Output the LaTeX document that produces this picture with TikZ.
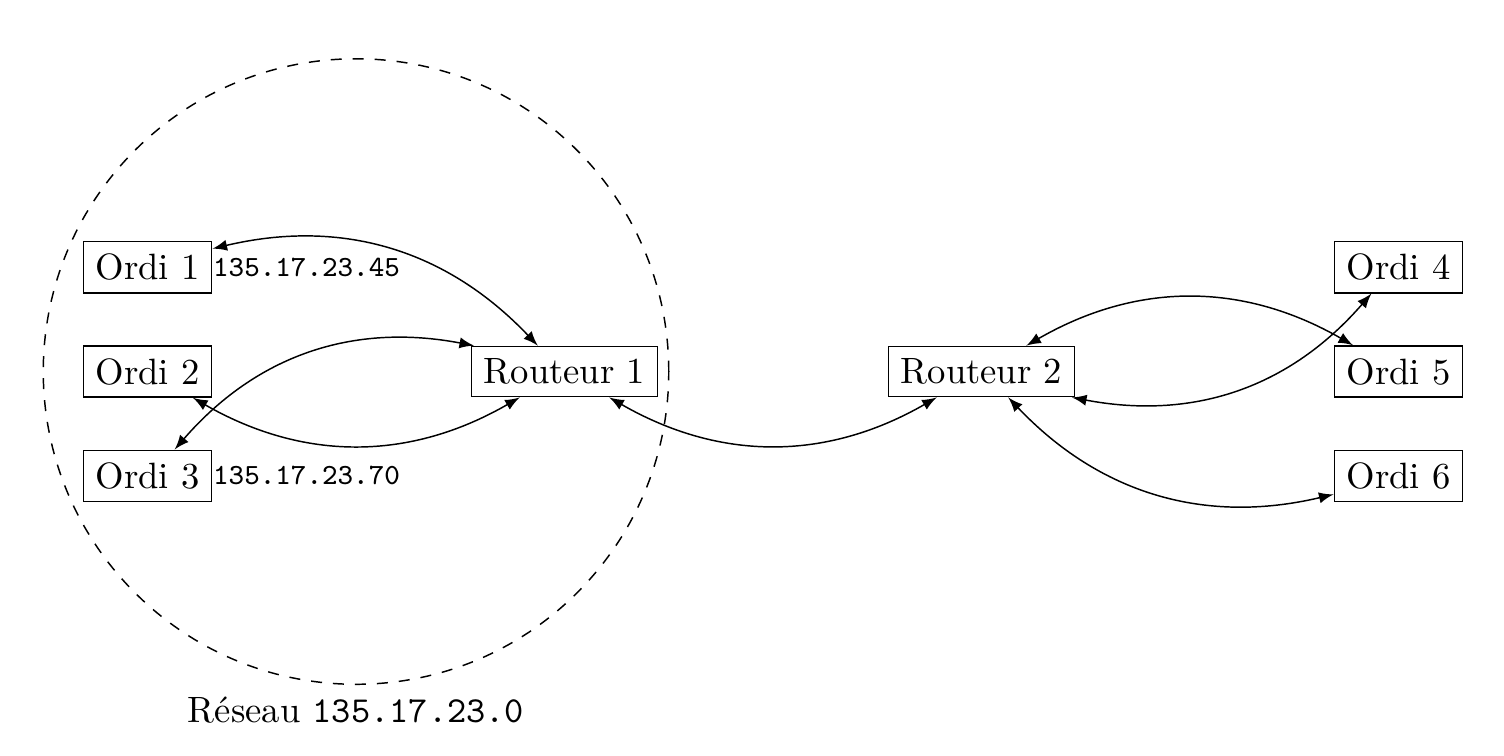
\documentclass[tikz,border=0pt]{standalone}
\begin{document}
\begin{tikzpicture}[
  box/.style={draw, rectangle},
  link/.style={latex-latex},
  ip/.style={anchor=west, inner sep=0pt, font=\ttfamily\footnotesize}
]
\useasboundingbox (-1.415,-3.679) rectangle (13.012,3.564);
\node[box] (o1) at (0,1) {Ordi 1};
\node[box] (o2) at (0,0) {Ordi 2};
\node[box] (o3) at (0,-1) {Ordi 3};
\node[box] (r1) at (4,0) {Routeur 1};
\node[box] (r2) at (8,0) {Routeur 2};
\node[box] (o4) at (12,1) {Ordi 4};
\node[box] (o5) at (12,0) {Ordi 5};
\node[box] (o6) at (12,-1) {Ordi 6};
\node[ip] (ip1) at (o1.east) {135.17.23.45};
\node[ip] (ip3) at (o3.east) {135.17.23.70};
\coordinate (c) at (2,0);
\draw[dashed] (c) circle (3cm);
\node[below] (net) at (2,-3) {R\'eseau \texttt{135.17.23.0}};
\draw[link] (o1) to[bend left] (r1);
\draw[link] (o2) to[bend right] (r1);
\draw[link] (o3) to[bend left] (r1);
\draw[link] (r1) to[bend right] (r2);
\draw[link] (r2) to[bend right] (o6);
\draw[link] (r2) to[bend right] (o4);
\draw[link] (r2) to[bend left] (o5);
\end{tikzpicture}
\end{document}
